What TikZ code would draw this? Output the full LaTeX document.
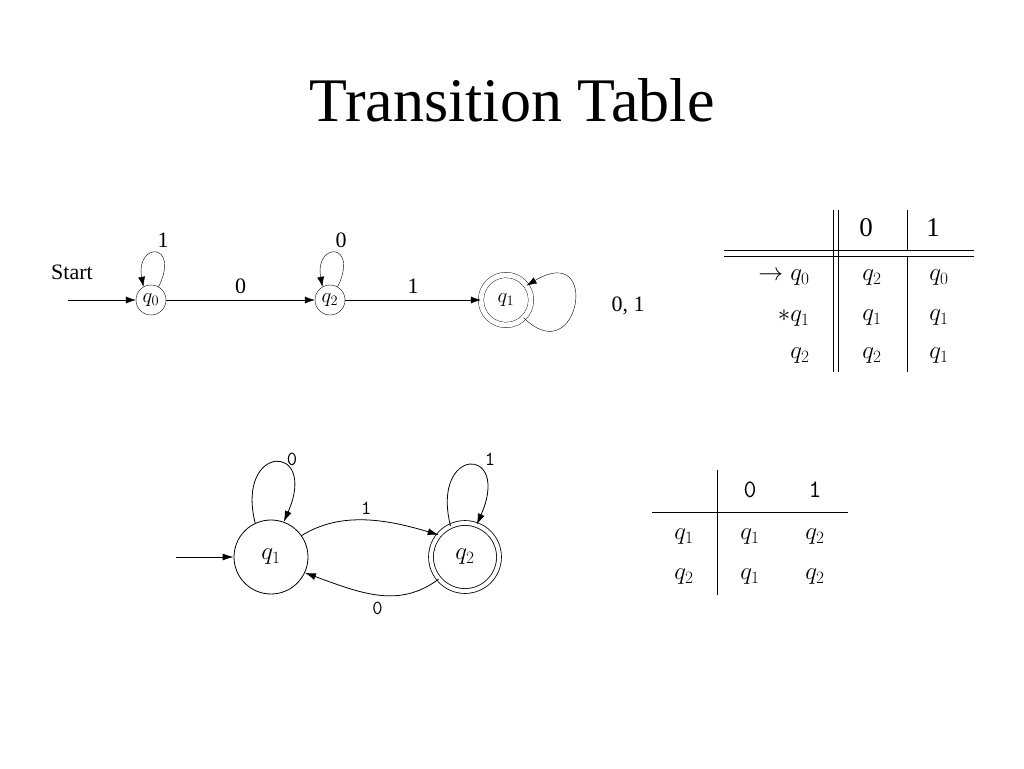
\documentclass[tikz,border=0pt]{standalone}
\usepackage{fontspec}
\setmainfont{Liberation Serif}
\usetikzlibrary{arrows.meta}
\begin{document}
\begin{tikzpicture}[x=1pt,y=-1pt,
  st/.style={circle,draw,minimum size=30pt,inner sep=0pt,font=\fontsize{21}{21}\selectfont},
  bst/.style={circle,draw,thick,minimum size=74pt,inner sep=0pt,font=\fontsize{27}{27}\selectfont},
  lbl/.style={font=\fontsize{22}{22}\selectfont},
  tl/.style={font=\ttfamily\fontsize{20}{20}\selectfont},
  tx/.style={font=\fontsize{27}{27}\selectfont},
  ar/.style={-{Latex[length=10pt,width=7pt]}},
  bar/.style={-{Latex[length=11pt,width=7pt]},thick}]
\useasboundingbox (0,0) rectangle (1024,768);
\node[font=\fontsize{62}{62}\selectfont] (title) at (512,100) {Transition Table};
% top automaton
\node[st] (a0) at (151,300) {$q_0$};
\node[st] (a2) at (330,300) {$q_2$};
\node[st,minimum size=50pt,double,double distance=5pt] (a1) at (506,300) {$q_1$};
\coordinate (s0) at (68,300);
\draw[ar] (s0) -- (a0);
\node[lbl] (start) at (72,272) {Start};
\draw[ar] (a0) -- node[lbl,above=3pt] {0} (a2);
\draw[ar] (a2) -- node[lbl,above=3pt] {1} (a1);
\draw[ar] (a0.60) .. controls +(22,-45) and +(-8,-45) .. (a0.120);
\node[lbl] (l1) at (163,240) {1};
\draw[ar] (a2.60) .. controls +(22,-45) and +(-8,-45) .. (a2.120);
\node[lbl] (l0) at (341,240) {0};
\draw[ar] (a1.-45) .. controls +(55,55) and +(75,-45) .. (a1.35);
\node[lbl] (l01) at (628,306) {0, 1};
% top table
\draw (833,210) -- (833,372) (838,210) -- (838,372);
\draw (907,210) -- (907,250) (907,256) -- (907,372);
\draw (724,250) -- (974,250) (724,256) -- (974,256);
\node[tx] (h0) at (866,228) {0};
\node[tx] (h1) at (933,228) {1};
\node[tx,anchor=east] (r0) at (813,278) {$\rightarrow q_0$};
\node[tx,anchor=east] (r1) at (813,318) {$*q_1$};
\node[tx,anchor=east] (r2) at (813,356) {$q_2$};
\node[tx] at (872,278) {$q_2$}; \node[tx] at (939,278) {$q_0$};
\node[tx] at (872,318) {$q_1$}; \node[tx] at (939,318) {$q_1$};
\node[tx] at (872,356) {$q_2$}; \node[tx] at (939,356) {$q_1$};
% bottom automaton
\node[bst] (b1) at (271,557) {$q_1$};
\node[bst,double,double distance=4pt,minimum size=68pt] (b2) at (465,557) {$q_2$};
\coordinate (s1) at (176,557);
\draw[bar] (s1) -- (b1);
\draw[bar] (b1.35) .. controls +(40,-25) and +(-50,-15) .. node[tl,above=2pt] {1} (b2.140);
\draw[bar] (b2.-140) .. controls +(-40,30) and +(55,20) .. node[tl,below=4pt] {0} (b1.-25);
\draw[bar] (b1.115) .. controls +(-20,-80) and +(35,-80) .. (b1.70);
\node[tl] (m0) at (292,459) {0};
\draw[bar] (b2.115) .. controls +(-20,-80) and +(35,-80) .. (b2.70);
\node[tl] (m1) at (490,459) {1};
% bottom table
\draw[thick] (717,470) -- (717,595);
\draw[thick] (652,512) -- (848,512);
\node[font=\ttfamily\fontsize{25}{25}\selectfont] at (750,490) {0};
\node[font=\ttfamily\fontsize{25}{25}\selectfont] at (815,490) {1};
\node[tx] at (684,537) {$q_1$}; \node[tx] at (750,537) {$q_1$}; \node[tx] at (815,537) {$q_2$};
\node[tx] at (684,577) {$q_2$}; \node[tx] at (750,577) {$q_1$}; \node[tx] at (815,577) {$q_2$};
\end{tikzpicture}
\end{document}
